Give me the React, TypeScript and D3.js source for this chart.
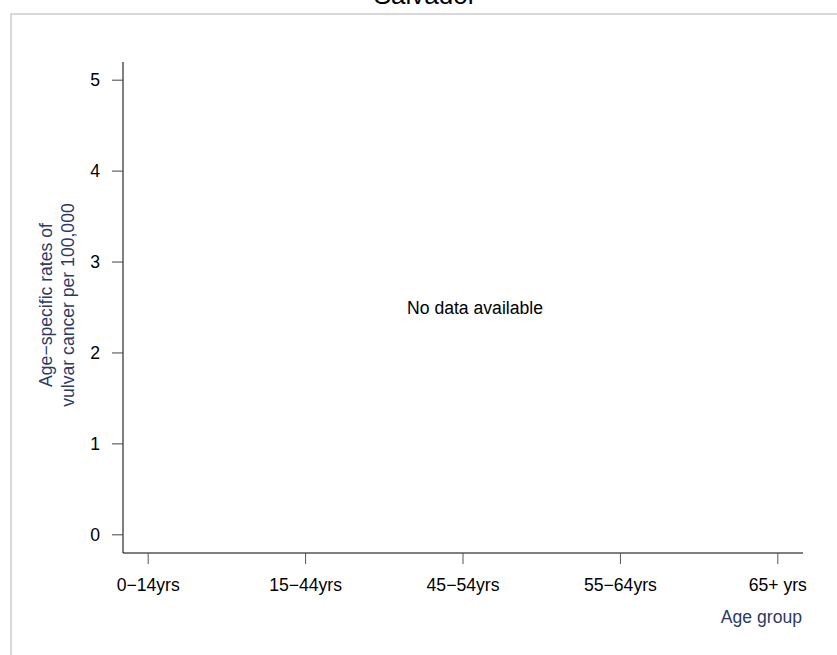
import React from "react";
import * as d3 from "d3";

const title = "Salvador";
const ageGroups = ["0\u221214yrs", "15\u221244yrs", "45\u221254yrs", "55\u221264yrs", "65+ yrs"];
const yTicks = [0, 1, 2, 3, 4, 5];
const yDomain = [-0.2, 5.2];
const rates: (number | null)[] = [null, null, null, null, null];
const noDataText = "No data available";
const yTitleLines = ["Age\u2212specific rates of", "vulvar cancer per 100,000"];
const xTitle = "Age group";

const W = 837;
const H = 655;
const FONT = "'Liberation Sans', Arial, Helvetica, sans-serif";
const NAVY = "#2c3a66";

export default function App() {
  const x = d3.scaleLinear().domain([0.84, 5.16]).range([123, 803]);
  const y = d3.scaleLinear().domain(yDomain).range([553, 62]);
  const fs = 17.6;
  const yMid = 305;

  return (
    <svg
      width={W}
      height={H}
      style={{ position: "absolute", left: 0, top: 0, display: "block", background: "#fff" }}
      fontFamily={FONT}
    >
      <rect x={11} y={14} width={W + 20} height={H + 20} fill="none" stroke="#d9d9d9" strokeWidth={2} />
      <text x={425} y={4} textAnchor="middle" fontSize={26} fill="#000">
        {title}
      </text>

      {/* y axis */}
      <line x1={123} x2={123} y1={y(yDomain[0])} y2={y(yDomain[1])} stroke="#000" strokeWidth={1} />
      {yTicks.map((t) => (
        <g key={t}>
          <line x1={112} x2={123} y1={y(t)} y2={y(t)} stroke="#444" strokeWidth={1} />
          <text x={100} y={y(t) + 6} textAnchor="end" fontSize={fs} fill="#000">
            {t}
          </text>
        </g>
      ))}

      {/* x axis */}
      <line x1={x(0.84)} x2={x(5.16)} y1={553} y2={553} stroke="#000" strokeWidth={1} />
      {ageGroups.map((g, i) => (
        <g key={g}>
          <line x1={x(i + 1)} x2={x(i + 1)} y1={553} y2={564} stroke="#555" strokeWidth={1} />
          <text x={x(i + 1)} y={591} textAnchor="middle" fontSize={fs} fill="#000">
            {g}
          </text>
        </g>
      ))}

      {/* data (none available) */}
      {rates.every((r) => r == null) && (
        <text x={475} y={y(2.5) + 6} textAnchor="middle" fontSize={fs} fill="#000">
          {noDataText}
        </text>
      )}

      {/* axis titles */}
      {yTitleLines.map((l, i) => (
        <text
          key={l}
          transform={`translate(${51.5 + i * 22},${yMid}) rotate(-90)`}
          textAnchor="middle"
          fontSize={fs}
          fill={NAVY}
        >
          {l}
        </text>
      ))}
      <text x={802} y={623} textAnchor="end" fontSize={fs} fill={NAVY}>
        {xTitle}
      </text>
    </svg>
  );
}
